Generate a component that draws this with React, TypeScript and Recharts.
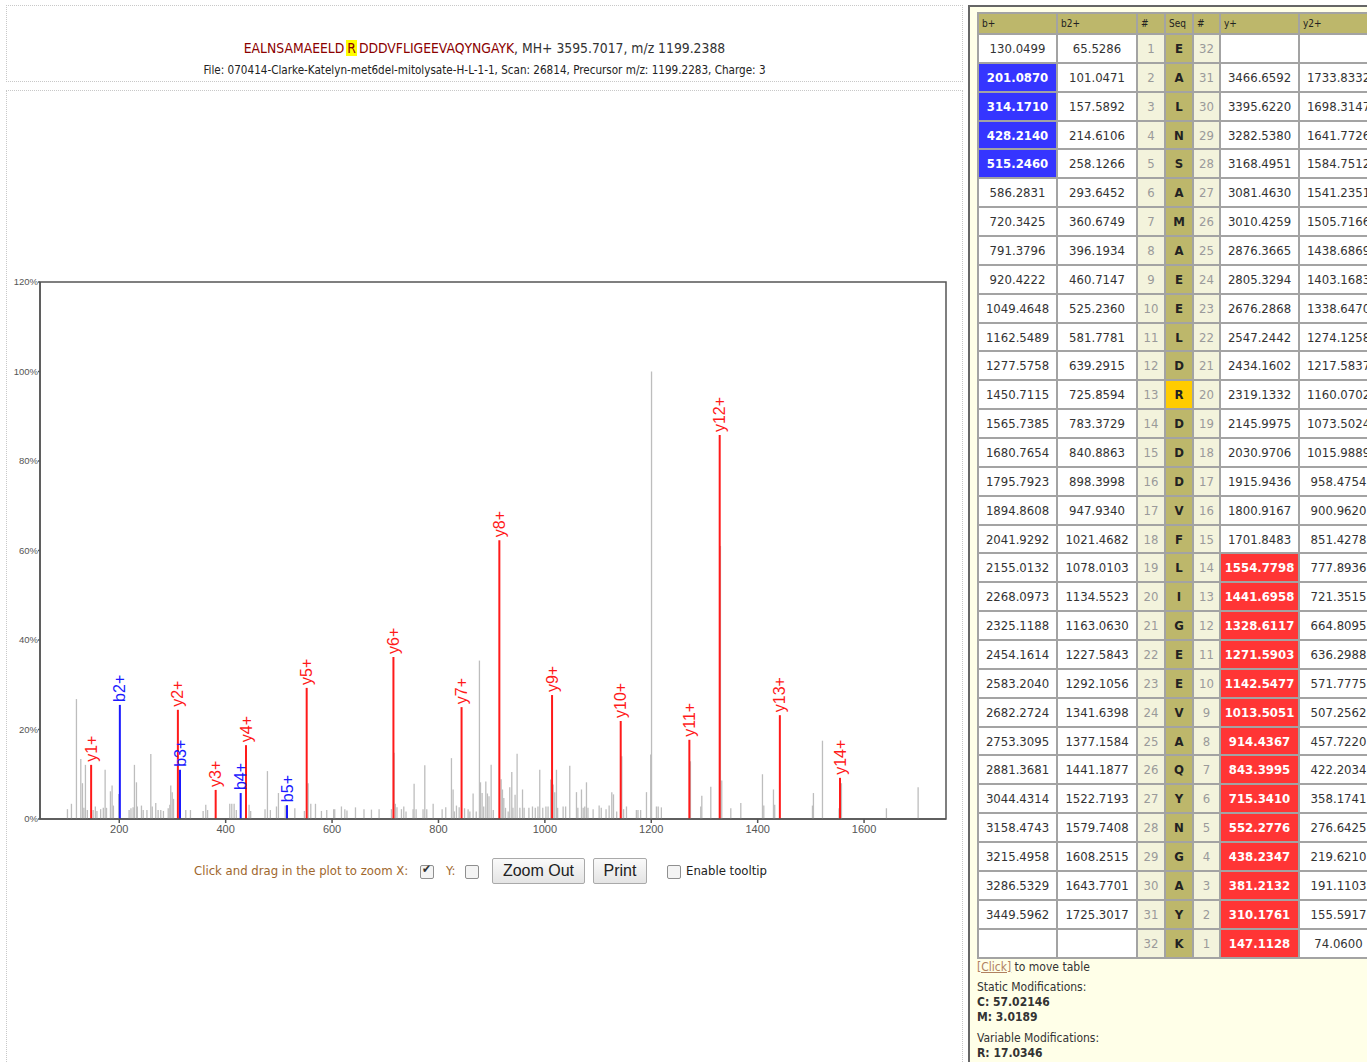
import React from 'react';
import { ComposedChart, XAxis, YAxis, Scatter, ReferenceLine, ReferenceArea } from 'recharts';

// unmatched peaks: [m/z, relative intensity %]
const unmatchedPeaks: [number, number][] = [
  [102.6, 2.2], [110.1, 3.4], [119.5, 26.8], [127.7, 13.4], [130.8, 8.0], [133.5, 2.5], [136.4, 12.1],
  [140, 2.0], [150.9, 2.0], [155, 2.8], [158, 1.8], [165, 2.2], [170, 2.5], [173.4, 11.0], [176, 2.5],
  [183.4, 6.2], [186.5, 7.5], [189, 3.0], [199, 5.6], [218.5, 2.0], [222, 2.4], [226, 2.6], [228.5, 12.1],
  [232.3, 8.2], [234, 2.8], [241.7, 3.0], [245, 2.0], [252, 2.0], [259.3, 14.5], [262, 2.8], [268.6, 3.6],
  [273, 2.0], [278, 2.0], [283, 1.8], [292, 2.4], [295, 3.2], [296.8, 7.5], [299.5, 6.0], [302, 4.5],
  [325, 2.0], [333.8, 2.0], [357.6, 1.8], [362.6, 3.2], [366, 2.0], [407.7, 3.4], [411.5, 3.4],
  [415.9, 3.4], [420, 2.0], [444, 3.2], [447, 1.8], [474, 2.2], [478.5, 10.7], [484, 2.0], [495.5, 2.8],
  [499.2, 5.8], [512, 3.0], [530, 2.4], [548, 1.8], [555, 8.0], [560, 3.4], [568.8, 3.4], [580, 1.8],
  [590, 2.0], [603, 2.2], [605, 2.2], [617.6, 2.8], [624, 2.2], [628, 1.9], [644, 2.6], [660, 2.2],
  [674, 2.1], [688.4, 2.2], [711.6, 2.2], [716.6, 14.8], [719, 3.4], [722, 2.6], [730.4, 2.2],
  [734.8, 2.8], [739, 1.7], [752.3, 2.2], [754.2, 7.9], [758, 2.2], [771, 2.2], [774.3, 12.0],
  [778, 2.2], [790, 3.4], [806.9, 2.2], [813.7, 2.6], [824.4, 13.6], [827.5, 6.6], [830, 1.7],
  [833.8, 3.0], [838.9, 2.6], [849, 2.4], [855.7, 2.2], [859, 1.7], [865.1, 5.7], [871, 1.7],
  [877, 35.4], [879, 8.2], [882, 5.8], [885, 2.8], [889, 8.4], [892, 5.7], [895, 5.1], [899, 12.1],
  [903, 2.0], [917.8, 8.9], [920.3, 6.6], [922.8, 4.7], [926, 2.5], [931, 1.7], [934, 7.1], [937.8, 10.5],
  [940, 2.5], [944, 5.4], [947.8, 14.6], [953, 2.5], [958, 6.6], [961, 2.5], [970, 2.5], [976.7, 2.8],
  [982, 2.5], [987, 2.8], [990.4, 11.0], [996, 2.5], [1002, 2.8], [1006, 2.8], [1011, 8.8],
  [1015.5, 7.7], [1018.6, 6.0], [1021.8, 11.0], [1024, 2.5], [1034.3, 2.8], [1039, 2.8], [1046.8, 11.9],
  [1059.4, 6.0], [1062, 2.5], [1068.8, 6.6], [1072, 2.5], [1075, 2.8], [1078.2, 8.2], [1081, 2.5],
  [1090.7, 2.2], [1102, 3.0], [1106, 2.5], [1115, 2.2], [1120.8, 3.0], [1125.8, 6.0], [1129, 5.5],
  [1135, 1.7], [1144.6, 14.0], [1148, 2.2], [1153.4, 2.8], [1172, 2.0], [1175, 2.0], [1180, 2.0],
  [1191, 6.0], [1199, 14.4], [1200.5, 100], [1209.7, 2.8], [1213, 2.8], [1219, 2.6], [1273.6, 12.9],
  [1293, 2.8], [1295, 5.2], [1311.9, 7.2], [1330, 61.0], [1332.5, 8.6], [1349.5, 2.4], [1368.3, 3.6],
  [1409, 10.0], [1411.5, 3.0], [1429.7, 6.6], [1432, 3.2], [1503, 3.0], [1504.8, 5.8], [1521.8, 17.5],
  [1553, 2.4], [1557.5, 8.0], [1642, 2.4], [1701.6, 7.1],
];

// matched fragment ions
const bIons = [
  { label: 'b2+', mz: 201.087, pct: 25.5 },
  { label: 'b3+', mz: 314.171, pct: 11.0 },
  { label: 'b4+', mz: 428.214, pct: 5.8 },
  { label: 'b5+', mz: 515.246, pct: 3.1 },
];
const yIons = [
  { label: 'y1+', mz: 147.1128, pct: 12.1 },
  { label: 'y2+', mz: 310.1761, pct: 24.4 },
  { label: 'y3+', mz: 381.2132, pct: 6.5 },
  { label: 'y4+', mz: 438.2347, pct: 16.5 },
  { label: 'y5+', mz: 552.2776, pct: 29.3 },
  { label: 'y6+', mz: 715.341, pct: 36.2 },
  { label: 'y7+', mz: 843.3995, pct: 25.0 },
  { label: 'y8+', mz: 914.4367, pct: 62.3 },
  { label: 'y9+', mz: 1013.5051, pct: 27.7 },
  { label: 'y10+', mz: 1142.5477, pct: 21.9 },
  { label: 'y11+', mz: 1271.5903, pct: 17.7 },
  { label: 'y12+', mz: 1328.6117, pct: 85.8 },
  { label: 'y13+', mz: 1441.6958, pct: 23.2 },
  { label: 'y14+', mz: 1554.7798, pct: 9.2 },
];

const xTicks = [200, 400, 600, 800, 1000, 1200, 1400, 1600];
const yTicks = [0, 20, 40, 60, 80, 100, 120];

// fragment table
const sequence = 'EALNSAMAEELDRDDDVFLIGEEVAQYNGAYK'.split('');
const bPlus = ['130.0499', '201.0870', '314.1710', '428.2140', '515.2460', '586.2831', '720.3425', '791.3796', '920.4222', '1049.4648', '1162.5489', '1277.5758', '1450.7115', '1565.7385', '1680.7654', '1795.7923', '1894.8608', '2041.9292', '2155.0132', '2268.0973', '2325.1188', '2454.1614', '2583.2040', '2682.2724', '2753.3095', '2881.3681', '3044.4314', '3158.4743', '3215.4958', '3286.5329', '3449.5962', ''];
const b2Plus = ['65.5286', '101.0471', '157.5892', '214.6106', '258.1266', '293.6452', '360.6749', '396.1934', '460.7147', '525.2360', '581.7781', '639.2915', '725.8594', '783.3729', '840.8863', '898.3998', '947.9340', '1021.4682', '1078.0103', '1134.5523', '1163.0630', '1227.5843', '1292.1056', '1341.6398', '1377.1584', '1441.1877', '1522.7193', '1579.7408', '1608.2515', '1643.7701', '1725.3017', ''];
const yPlus = ['', '3466.6592', '3395.6220', '3282.5380', '3168.4951', '3081.4630', '3010.4259', '2876.3665', '2805.3294', '2676.2868', '2547.2442', '2434.1602', '2319.1332', '2145.9975', '2030.9706', '1915.9436', '1800.9167', '1701.8483', '1554.7798', '1441.6958', '1328.6117', '1271.5903', '1142.5477', '1013.5051', '914.4367', '843.3995', '715.3410', '552.2776', '438.2347', '381.2132', '310.1761', '147.1128'];
const y2Plus = ['', '1733.8332', '1698.3147', '1641.7726', '1584.7512', '1541.2351', '1505.7166', '1438.6869', '1403.1683', '1338.6470', '1274.1258', '1217.5837', '1160.0702', '1073.5024', '1015.9889', '958.4754', '900.9620', '851.4278', '777.8936', '721.3515', '664.8095', '636.2988', '571.7775', '507.2562', '457.7220', '422.2034', '358.1741', '276.6425', '219.6210', '191.1103', '155.5917', '74.0600'];
const matchedB = [2, 3, 4, 5];
const matchedY = [1, 2, 3, 4, 5, 6, 7, 8, 9, 10, 11, 12, 13, 14];
const modifiedResidue = 13;

const uiFont = '"DejaVu Sans Condensed", "DejaVu Sans", sans-serif';
const plotFont = '"Liberation Sans", Arial, sans-serif';

const annotated = [
  ...bIons.map(d => ({ ...d, color: '#1a1aff' })),
  ...yIons.map(d => ({ ...d, color: '#ff1a1a' })),
];

const IonLabel = (props: any) => {
  const { cx, cy, payload } = props;
  if (cx == null || cy == null) return null;
  const y = cy - 3;
  return (
    <text x={cx} y={y} dy="0.35em" transform={`rotate(-90 ${cx} ${y})`} fill={payload.color}
      fontSize={16} fontFamily={plotFont} textAnchor="start">
      {payload.label}
    </text>
  );
};

const Checkbox = ({ checked }: { checked?: boolean }) => (
  <span style={{ display: 'inline-block', width: 12, height: 12, border: '1px solid #8f8f8f', borderRadius: 2, background: '#f4f4f4', position: 'relative', verticalAlign: 'middle' }}>
    {checked && <span style={{ position: 'absolute', left: 1, top: -4, fontSize: 12, color: '#333' }}>✔</span>}
  </span>
);

const btn: React.CSSProperties = {
  position: 'absolute', top: 858, height: 26, boxSizing: 'border-box', border: '1px solid #a9a9a9', borderRadius: 2,
  background: 'linear-gradient(#fafafa, #e4e4e4)', fontFamily: plotFont, fontSize: 16, color: '#222',
  display: 'flex', alignItems: 'center', justifyContent: 'center',
};

const colWidths = [79, 80, 28, 28, 27, 79, 79];
const headers = ['b+', 'b2+', '#', 'Seq', '#', 'y+', 'y2+'];

const cellBase: React.CSSProperties = { border: '2px solid #a3a3a3', height: 26.87, padding: 0, textAlign: 'center', fontSize: 13, color: '#333', whiteSpace: 'nowrap', overflow: 'hidden' };

export default function App() {
  const n = sequence.length;
  return (
    <div style={{ position: 'fixed', left: 0, top: 0, width: 1367, height: 1062, overflow: 'hidden', background: '#fff', fontFamily: uiFont }}>
      {/* title box */}
      <div style={{ position: 'absolute', left: 6, top: 5, width: 955, height: 75, border: '1px dotted #c8c8c8' }}>
        <div style={{ position: 'absolute', top: 34, width: '100%', textAlign: 'center', fontSize: 13.8, color: '#333' }}>
          <span style={{ color: '#8b0000' }}>EALNSAMAEELD</span>
          <span style={{ color: '#8b0000', background: '#ffff00', margin: '0 2px', padding: '0 1px' }}>R</span>
          <span style={{ color: '#8b0000' }}>DDDVFLIGEEVAQYNGAYK</span>, MH+ 3595.7017, m/z 1199.2388
        </div>
        <div style={{ position: 'absolute', top: 57, width: '100%', textAlign: 'center', fontSize: 11.6, color: '#222' }}>
          File: 070414-Clarke-Katelyn-met6del-mitolysate-H-L-1-1, Scan: 26814, Precursor m/z: 1199.2283, Charge: 3
        </div>
      </div>

      {/* plot box */}
      <div style={{ position: 'absolute', left: 6, top: 90, width: 955, height: 1000, border: '1px dotted #c8c8c8' }} />

      <div style={{ position: 'absolute', left: 0, top: 270 }}>
        <ComposedChart width={960} height={580} margin={{ top: 12, right: 14, bottom: 6, left: 0 }}>
          <XAxis type="number" dataKey="mz" domain={[51, 1754]} ticks={xTicks} allowDataOverflow
            height={25} tickSize={4} tickMargin={2} stroke="#555" strokeWidth={1.5}
            tick={{ fontSize: 11, fill: '#555', fontFamily: plotFont }} />
          <YAxis type="number" dataKey="pct" domain={[0, 120]} ticks={yTicks} allowDataOverflow
            width={40} tickSize={2} tickMargin={0} stroke="#555" strokeWidth={1.5}
            tickFormatter={(v: number) => `${v}%`}
            tick={{ fontSize: 9.5, fill: '#555', fontFamily: plotFont }} />
          <ReferenceArea x1={51} x2={1754} y1={0} y2={120} fill="none" stroke="#555" strokeWidth={1.5} ifOverflow="visible" />
          {unmatchedPeaks.map(([mz, pct], i) => (
            <ReferenceLine key={`u${i}`} segment={[{ x: mz, y: 0 }, { x: mz, y: pct }]} stroke="#bdbdbd" strokeWidth={1.3} />
          ))}
          {annotated.map(d => (
            <ReferenceLine key={d.label} segment={[{ x: d.mz, y: 0 }, { x: d.mz, y: d.pct }]} stroke={d.color} strokeWidth={2} />
          ))}
          <Scatter data={annotated} isAnimationActive={false} shape={IonLabel} />
        </ComposedChart>
      </div>

      {/* controls */}
      <div style={{ position: 'absolute', left: 194, top: 863, fontSize: 13, color: '#a0672d', whiteSpace: 'nowrap' }}>
        Click and drag in the plot to zoom X:
      </div>
      <div style={{ position: 'absolute', left: 420, top: 861 }}><Checkbox checked /></div>
      <div style={{ position: 'absolute', left: 446, top: 863, fontSize: 13, color: '#a0672d' }}>Y:</div>
      <div style={{ position: 'absolute', left: 465, top: 861 }}><Checkbox /></div>
      <div style={{ ...btn, left: 492, width: 93 }}>Zoom Out</div>
      <div style={{ ...btn, left: 593, width: 54 }}>Print</div>
      <div style={{ position: 'absolute', left: 667, top: 861 }}><Checkbox /></div>
      <div style={{ position: 'absolute', left: 686, top: 863, fontSize: 13, color: '#222', whiteSpace: 'nowrap' }}>Enable tooltip</div>

      {/* fragment table panel */}
      <div style={{ position: 'absolute', left: 968, top: 5, width: 420, height: 1100, background: '#ffffe8', borderLeft: '2px solid #666', borderTop: '2px solid #666' }} />
      <table style={{ position: 'absolute', left: 977, top: 12, borderCollapse: 'collapse', tableLayout: 'fixed', width: colWidths.reduce((a, b) => a + b, 0), fontFamily: uiFont }}>
        <colgroup>{colWidths.map((w, i) => <col key={i} style={{ width: w }} />)}</colgroup>
        <thead>
          <tr>
            {headers.map((h, i) => (
              <th key={i} style={{ border: '2px solid #a3a3a3', background: '#bdb76b', height: 19, padding: '0 3px', textAlign: 'left', fontSize: 10, fontWeight: 'normal', color: '#222' }}>{h}</th>
            ))}
          </tr>
        </thead>
        <tbody>
          {sequence.map((aa, i) => {
            const bi = i + 1;
            const yi = n - i;
            const bHit = matchedB.includes(bi);
            const yHit = matchedY.includes(yi);
            return (
              <tr key={i}>
                <td style={{ ...cellBase, background: bHit ? '#3535ff' : '#fff', color: bHit ? '#fff' : '#333', fontWeight: bHit ? 'bold' : 'normal' }}>{bPlus[i]}</td>
                <td style={{ ...cellBase, background: '#fff' }}>{b2Plus[i]}</td>
                <td style={{ ...cellBase, background: '#f3f3dc', color: '#9a9a9a' }}>{bi}</td>
                <td style={{ ...cellBase, background: bi === modifiedResidue ? '#ffcc00' : '#bdb76b', fontWeight: 'bold', color: '#222' }}>{aa}</td>
                <td style={{ ...cellBase, background: '#f3f3dc', color: '#9a9a9a' }}>{yi}</td>
                <td style={{ ...cellBase, background: yHit ? '#ff3535' : '#fff', color: yHit ? '#fff' : '#333', fontWeight: yHit ? 'bold' : 'normal' }}>{yPlus[i]}</td>
                <td style={{ ...cellBase, background: '#fff' }}>{y2Plus[i]}</td>
              </tr>
            );
          })}
        </tbody>
      </table>

      <div style={{ position: 'absolute', left: 977, top: 960, fontSize: 12, color: '#333', lineHeight: '15px' }}>
        <span style={{ color: '#b08060', textDecoration: 'underline' }}>[Click]</span> to move table
      </div>
      <div style={{ position: 'absolute', left: 977, top: 980, fontSize: 12, color: '#333', lineHeight: '15px' }}>
        <div>Static Modifications:</div>
        <div style={{ fontWeight: 'bold' }}>C: 57.02146</div>
        <div style={{ fontWeight: 'bold' }}>M: 3.0189</div>
        <div style={{ marginTop: 6 }}>Variable Modifications:</div>
        <div style={{ fontWeight: 'bold' }}>R: 17.0346</div>
      </div>
    </div>
  );
}
